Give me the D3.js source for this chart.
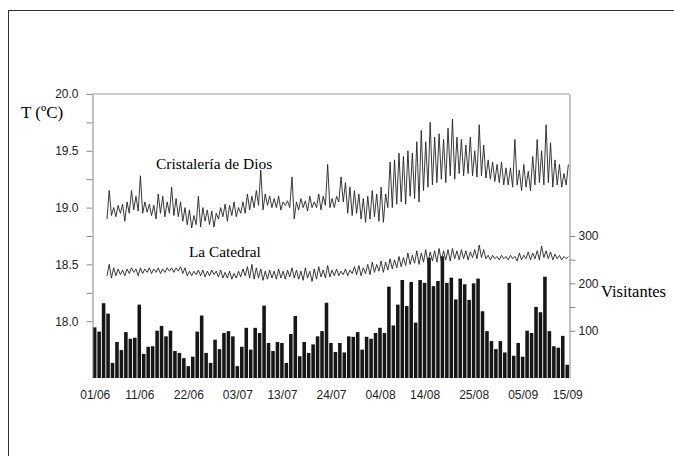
<!DOCTYPE html>
<html>
<head>
<meta charset="utf-8">
<script src="https://cdn.jsdelivr.net/npm/d3@7"></script>
<style>
body { margin: 0; background: #fff; }
</style>
</head>
<body>
<div id="chart"></div>
<script>
// visitors per day, 01/06 .. 15/09
var visitantes = [107, 98, 158, 136, 32, 76, 59, 97, 83, 85,
  155, 51, 66, 67, 100, 110, 88, 100, 57, 53,
  42, 25, 45, 98, 132, 53, 32, 81, 61, 95,
  99, 88, 25, 66, 106, 60, 106, 95, 153, 74,
  57, 76, 74, 32, 93, 131, 46, 76, 53, 71,
  88, 99, 159, 74, 55, 74, 54, 88, 87, 97,
  60, 87, 83, 95, 106, 95, 193, 111, 155, 207,
  152, 203, 117, 207, 201, 254, 194, 205, 257, 201,
  212, 166, 210, 198, 165, 200, 210, 141, 99, 78,
  61, 78, 54, 201, 47, 74, 45, 100, 95, 150,
  139, 214, 99, 67, 64, 89, 28];

// temperature series start on day 3 (04/06): daily min and max
var primerDiaT = 3;
var cristaleriaMin = [18.90, 18.93, 18.92, 18.95, 18.88, 18.95, 18.98, 18.97, 18.95, 18.96,
  18.93, 18.90, 18.95, 18.92, 18.95, 18.93, 18.92, 18.88, 18.85, 18.82,
  18.85, 18.83, 18.88, 18.85, 18.83, 18.90, 18.92, 18.88, 18.93, 18.92,
  18.95, 18.95, 18.98, 19.00, 19.02, 18.98, 19.02, 19.00, 19.00, 18.98,
  19.02, 19.00, 18.90, 18.98, 19.00, 18.97, 19.00, 19.00, 18.98, 19.02,
  19.00, 19.00, 19.05, 19.05, 18.95, 18.93, 18.95, 18.90, 18.87, 18.90,
  18.92, 18.88, 18.87, 19.00, 19.00, 19.03, 19.05, 19.03, 19.10, 19.08,
  19.05, 19.15, 19.18, 19.20, 19.22, 19.25, 19.22, 19.28, 19.25, 19.30,
  19.28, 19.30, 19.28, 19.27, 19.28, 19.26, 19.25, 19.23, 19.22, 19.20,
  19.20, 19.18, 19.20, 19.15, 19.18, 19.15, 19.20, 19.22, 19.20, 19.22,
  19.18, 19.20, 19.18, 19.20];
var cristaleriaMax = [19.15, 19.00, 19.02, 19.03, 19.05, 19.15, 19.10, 19.28, 19.05, 19.03,
  19.02, 19.12, 19.10, 19.05, 19.18, 19.08, 19.05, 19.00, 18.98, 18.93,
  19.10, 19.00, 18.98, 18.97, 18.95, 19.00, 19.03, 19.02, 19.05, 19.00,
  19.05, 19.12, 19.10, 19.15, 19.33, 19.12, 19.10, 19.08, 19.10, 19.05,
  19.06, 19.27, 19.05, 19.08, 19.06, 19.10, 19.05, 19.12, 19.10, 19.38,
  19.08, 19.10, 19.27, 19.22, 19.18, 19.15, 19.12, 19.08, 19.10, 19.15,
  19.12, 19.18, 19.12, 19.40, 19.42, 19.48, 19.45, 19.50, 19.48, 19.58,
  19.68, 19.58, 19.75, 19.62, 19.65, 19.60, 19.70, 19.78, 19.62, 19.60,
  19.55, 19.62, 19.50, 19.73, 19.55, 19.42, 19.40, 19.38, 19.40, 19.35,
  19.35, 19.60, 19.33, 19.38, 19.32, 19.45, 19.60, 19.50, 19.73, 19.57,
  19.42, 19.38, 19.30, 19.38];
var catedralMin = [18.40, 18.38, 18.40, 18.41, 18.40, 18.42, 18.43, 18.40, 18.42, 18.43,
  18.42, 18.43, 18.42, 18.43, 18.44, 18.43, 18.44, 18.42, 18.40, 18.40,
  18.41, 18.40, 18.39, 18.40, 18.41, 18.39, 18.38, 18.38, 18.37, 18.38,
  18.39, 18.40, 18.38, 18.37, 18.38, 18.36, 18.37, 18.38, 18.37, 18.38,
  18.37, 18.39, 18.38, 18.37, 18.36, 18.38, 18.35, 18.37, 18.39, 18.38,
  18.39, 18.40, 18.40, 18.41, 18.40, 18.42, 18.41, 18.40, 18.42, 18.41,
  18.43, 18.44, 18.43, 18.45, 18.46, 18.47, 18.48, 18.49, 18.50, 18.51,
  18.50, 18.52, 18.51, 18.53, 18.52, 18.53, 18.54, 18.53, 18.55, 18.54,
  18.55, 18.54, 18.56, 18.55, 18.56, 18.55, 18.54, 18.55, 18.54, 18.55,
  18.54, 18.55, 18.53, 18.54, 18.55, 18.54, 18.55, 18.54, 18.56, 18.55,
  18.54, 18.55, 18.54, 18.55];
var catedralMax = [18.50, 18.47, 18.46, 18.45, 18.46, 18.47, 18.46, 18.47, 18.46, 18.47,
  18.46, 18.47, 18.46, 18.47, 18.47, 18.47, 18.48, 18.47, 18.44, 18.44,
  18.45, 18.45, 18.44, 18.45, 18.44, 18.45, 18.43, 18.44, 18.42, 18.44,
  18.46, 18.48, 18.50, 18.47, 18.46, 18.44, 18.45, 18.44, 18.46, 18.44,
  18.45, 18.47, 18.45, 18.44, 18.47, 18.44, 18.46, 18.48, 18.45, 18.49,
  18.45, 18.46, 18.44, 18.46, 18.45, 18.48, 18.49, 18.47, 18.50, 18.52,
  18.50, 18.53, 18.52, 18.55, 18.54, 18.57, 18.56, 18.60, 18.58, 18.62,
  18.60, 18.63, 18.61, 18.62, 18.64, 18.62, 18.63, 18.64, 18.62, 18.63,
  18.62, 18.61, 18.63, 18.67, 18.63, 18.58, 18.58, 18.57, 18.58, 18.57,
  18.58, 18.57, 18.60, 18.58, 18.61, 18.60, 18.62, 18.66, 18.62, 18.61,
  18.59, 18.58, 18.57, 18.57];

var fechas = ["01/06", "11/06", "22/06", "03/07", "13/07", "24/07", "04/08", "14/08", "25/08", "05/09", "15/09"];
var tempTicks = [18.0, 18.25, 18.5, 18.75, 19.0, 19.25, 19.5, 19.75, 20.0];
var visTicks = [100, 150, 200, 250, 300];

var width = 674, height = 456;
var plot = {left: 92.5, right: 569.5, top: 94, bottom: 378};
var dia = 864e5;
var inicio = Date.UTC(2000, 5, 1);

var svg = d3.select("#chart")
  .append("svg")
  .attr("width", width)
  .attr("height", height);

svg.append("rect")
  .attr("x", 8.5).attr("y", 10.5)
  .attr("width", 700).attr("height", 500)
  .attr("fill", "none").attr("stroke", "#333");

var x = d3.scaleUtc()
  .domain([inicio, inicio + 107 * dia])
  .range([plot.left, plot.right]);
var y = d3.scaleLinear().domain([17.5, 20]).range([plot.bottom, plot.top]);
var yV = d3.scaleLinear().domain([0, 600]).range([plot.bottom, plot.top]);

// bars
svg.append("g").selectAll("rect")
  .data(visitantes)
  .enter()
  .append("rect")
  .attr("x", function(d, i) { return x(inicio + i * dia) + 0.4; })
  .attr("y", function(d) { return yV(d); })
  .attr("width", function(d, i) { return x(inicio + (i + 1) * dia) - x(inicio + i * dia) - 0.9; })
  .attr("height", function(d) { return plot.bottom - yV(d); })
  .attr("fill", "#161616");

// temperature lines: min in the morning, max in the afternoon
function puntos(mins, maxs) {
  var p = [];
  mins.forEach(function(m, i) {
    var d = inicio + (primerDiaT + i) * dia;
    p.push([d + 0.25 * dia, m]);
    p.push([d + 0.75 * dia, maxs[i]]);
  });
  return p;
}
var linea = d3.line()
  .x(function(d) { return x(d[0]); })
  .y(function(d) { return y(d[1]); });

[[cristaleriaMin, cristaleriaMax], [catedralMin, catedralMax]].forEach(function(s) {
  svg.append("path")
    .datum(puntos(s[0], s[1]))
    .attr("d", linea)
    .attr("fill", "none")
    .attr("stroke", "#222")
    .attr("stroke-width", 0.9);
});

// axes
var fmt = function(d) { return d * 2 % 1 === 0 ? d3.format(".1f")(d) : ""; };
var gL = svg.append("g")
  .attr("transform", "translate(" + plot.left + ",0)")
  .call(d3.axisLeft(y).tickValues(tempTicks).tickFormat(fmt).tickSize(6).tickPadding(8).tickSizeOuter(0));

var gR = svg.append("g")
  .attr("transform", "translate(" + plot.right + ",0)")
  .call(d3.axisRight(yV).tickValues(visTicks)
    .tickFormat(function(d) { return d % 100 === 0 ? d : ""; })
    .tickSize(6).tickPadding(3).tickSizeOuter(0));

var parse = function(s) {
  var p = s.split("/");
  return Date.UTC(2000, +p[1] - 1, +p[0]) + 0.5 * dia;
};
var gB = svg.append("g")
  .attr("transform", "translate(0," + plot.bottom + ")")
  .call(d3.axisBottom(x).tickValues(fechas.map(parse))
    .tickFormat(function(d, i) { return fechas[i]; })
    .tickSize(0).tickPadding(12));
gB.select(".domain").remove();

[gL, gR, gB].forEach(function(g) {
  g.selectAll("text")
    .attr("font-family", "'Liberation Sans', Arial, sans-serif")
    .attr("font-size", 12)
    .attr("fill", "#222");
  g.selectAll("line, path").attr("stroke", "#888");
});

svg.append("line")
  .attr("x1", plot.left).attr("x2", plot.right)
  .attr("y1", plot.top).attr("y2", plot.top)
  .attr("stroke", "#999");

// labels
var serif = "'Liberation Serif', 'Times New Roman', serif";
svg.append("text").attr("x", 21).attr("y", 118)
  .attr("font-family", serif).attr("font-size", 17).text("T (ºC)");
svg.append("text").attr("x", 156).attr("y", 169)
  .attr("font-family", serif).attr("font-size", 15.5).text("Cristalería de Dios");
svg.append("text").attr("x", 189).attr("y", 257)
  .attr("font-family", serif).attr("font-size", 15.3).text("La Catedral");
svg.append("text").attr("x", 601).attr("y", 297)
  .attr("font-family", serif).attr("font-size", 16.5).text("Visitantes");
</script>
</body>
</html>
